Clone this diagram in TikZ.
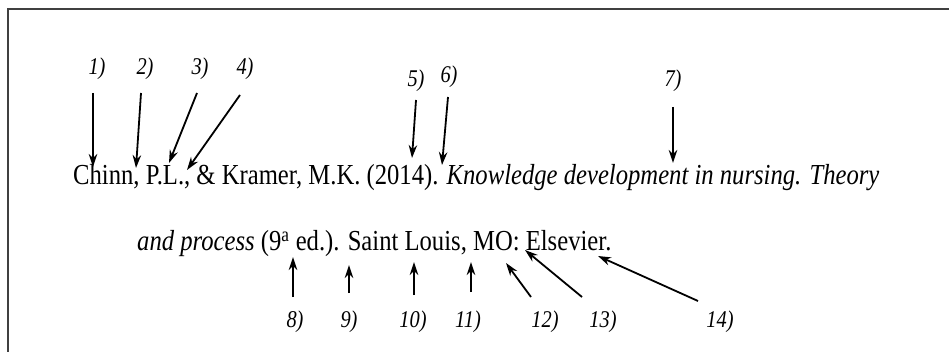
\documentclass[tikz,border=0pt]{standalone}
\usepackage{fontspec}
\setmainfont{Liberation Serif}[FakeStretch=0.85]
\usetikzlibrary{arrows.meta}
\begin{document}
\begin{tikzpicture}[x=1pt, y=-1pt]
    % 定义样式
    \tikzstyle{reftext}=[inner sep=0pt, anchor=base west, font=\fontsize{29}{32}\selectfont]
    \tikzstyle{num}=[inner sep=0pt, font=\fontsize{24}{27}\selectfont\itshape]
    \tikzstyle{pointer}=[-{Stealth[length=13pt, width=8.5pt]}, line width=1.8pt, black]
    \tikzstyle{frame}=[line width=2.5pt, black!75]

    \useasboundingbox (0,0) rectangle (949,352);

    % 1. 边框 (只有上边和左边)
    \draw[frame] (949,9) -- (8,9) -- (8,352);

    % 2. 参考文献的两行
    \node[reftext] (line1) at (73,185) {Chinn, P.L., \& Kramer, M.K. (2014). \textit{Knowledge development in nursing. Theory}};
    \node[reftext] (line2) at (137,251) {\textit{and process} (9\textsuperscript{a} ed.). Saint Louis, MO: Elsevier.};

    % 3. 上面的编号 1)--7)
    \node[num] (n1) at (97,69) {1)};
    \node[num] (n2) at (145,69) {2)};
    \node[num] (n3) at (200,69) {3)};
    \node[num] (n4) at (245,69) {4)};
    \node[num] (n5) at (416,81) {5)};
    \node[num] (n6) at (449,77) {6)};
    \node[num] (n7) at (673,81) {7)};

    % 下面的编号 8)--14)
    \node[num] (n8) at (295,322) {8)};
    \node[num] (n9) at (349,322) {9)};
    \node[num] (n10) at (413,322) {10)};
    \node[num] (n11) at (468,322) {11)};
    \node[num] (n12) at (545,322) {12)};
    \node[num] (n13) at (603,322) {13)};
    \node[num] (n14) at (720,322) {14)};

    % 箭头的起点和终点
    \coordinate (a1) at (93,93);   \coordinate (p1) at (93,167);
    \coordinate (a2) at (141,93);  \coordinate (p2) at (136,168);
    \coordinate (a3) at (197,93);  \coordinate (p3) at (169,163);
    \coordinate (a4) at (240,95);  \coordinate (p4) at (187,170);
    \coordinate (a5) at (416,100); \coordinate (p5) at (412,158);
    \coordinate (a6) at (448,97);  \coordinate (p6) at (442,165);
    \coordinate (a7) at (673,107); \coordinate (p7) at (673,163);

    \coordinate (a8) at (293,297);  \coordinate (p8) at (293,257);
    \coordinate (a9) at (349,293);  \coordinate (p9) at (349,265);
    \coordinate (a10) at (414,295); \coordinate (p10) at (414,262);
    \coordinate (a11) at (471,292); \coordinate (p11) at (471,262);
    \coordinate (a12) at (531,297); \coordinate (p12) at (506,263);
    \coordinate (a13) at (582,297); \coordinate (p13) at (525,250);
    \coordinate (a14) at (698,301); \coordinate (p14) at (598,256);

    % 4. 画箭头
    \foreach \i in {1,...,14}
        \draw[pointer] (a\i) -- (p\i);

\end{tikzpicture}
\end{document}
